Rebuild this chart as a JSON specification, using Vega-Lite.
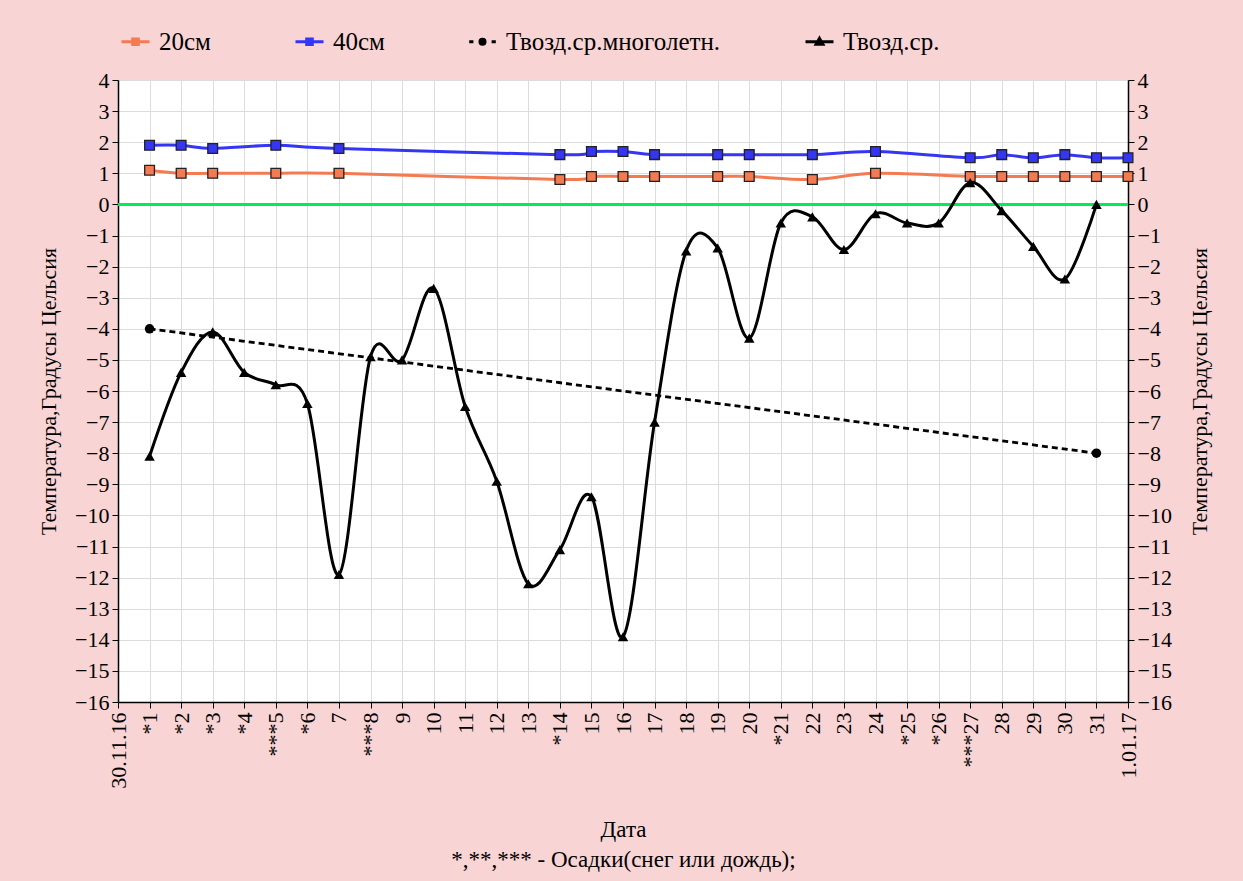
{
  "$schema": "https://vega.github.io/schema/vega-lite/v6.json",
  "width": 1010,
  "height": 622,
  "autosize": {"type": "none"},
  "padding": {"left": 118, "top": 80, "right": 115, "bottom": 179},
  "background": "#f9d4d4",
  "config": {
    "view": {"stroke": null, "fill": "white"},
    "axis": {"labelFont": "Liberation Serif", "titleFont": "Liberation Serif"},
    "style": {"guide-label": {"font": "Liberation Serif"}, "guide-title": {"font": "Liberation Serif"}}
  },
  "data": {
    "values": [
      {"s": "20см", "d": 1, "t": 1.1}, {"s": "20см", "d": 2, "t": 1.0}, {"s": "20см", "d": 3, "t": 1.0},
      {"s": "20см", "d": 5, "t": 1.0}, {"s": "20см", "d": 7, "t": 1.0}, {"s": "20см", "d": 14, "t": 0.8},
      {"s": "20см", "d": 15, "t": 0.9}, {"s": "20см", "d": 16, "t": 0.9}, {"s": "20см", "d": 17, "t": 0.9},
      {"s": "20см", "d": 19, "t": 0.9}, {"s": "20см", "d": 20, "t": 0.9}, {"s": "20см", "d": 22, "t": 0.8},
      {"s": "20см", "d": 24, "t": 1.0}, {"s": "20см", "d": 27, "t": 0.9}, {"s": "20см", "d": 28, "t": 0.9},
      {"s": "20см", "d": 29, "t": 0.9}, {"s": "20см", "d": 30, "t": 0.9}, {"s": "20см", "d": 31, "t": 0.9},
      {"s": "20см", "d": 32, "t": 0.9},
      {"s": "40см", "d": 1, "t": 1.9}, {"s": "40см", "d": 2, "t": 1.9}, {"s": "40см", "d": 3, "t": 1.8},
      {"s": "40см", "d": 5, "t": 1.9}, {"s": "40см", "d": 7, "t": 1.8}, {"s": "40см", "d": 14, "t": 1.6},
      {"s": "40см", "d": 15, "t": 1.7}, {"s": "40см", "d": 16, "t": 1.7}, {"s": "40см", "d": 17, "t": 1.6},
      {"s": "40см", "d": 19, "t": 1.6}, {"s": "40см", "d": 20, "t": 1.6}, {"s": "40см", "d": 22, "t": 1.6},
      {"s": "40см", "d": 24, "t": 1.7}, {"s": "40см", "d": 27, "t": 1.5}, {"s": "40см", "d": 28, "t": 1.6},
      {"s": "40см", "d": 29, "t": 1.5}, {"s": "40см", "d": 30, "t": 1.6}, {"s": "40см", "d": 31, "t": 1.5},
      {"s": "40см", "d": 32, "t": 1.5},
      {"s": "Твозд.ср.многолетн.", "d": 1, "t": -4.0},
      {"s": "Твозд.ср.многолетн.", "d": 31, "t": -8.0},
      {"s": "Твозд.ср.", "d": 1, "t": -8.1}, {"s": "Твозд.ср.", "d": 2, "t": -5.4}, {"s": "Твозд.ср.", "d": 3, "t": -4.1},
      {"s": "Твозд.ср.", "d": 4, "t": -5.4}, {"s": "Твозд.ср.", "d": 5, "t": -5.8}, {"s": "Твозд.ср.", "d": 6, "t": -6.4},
      {"s": "Твозд.ср.", "d": 7, "t": -11.9}, {"s": "Твозд.ср.", "d": 8, "t": -4.9}, {"s": "Твозд.ср.", "d": 9, "t": -5.0},
      {"s": "Твозд.ср.", "d": 10, "t": -2.7}, {"s": "Твозд.ср.", "d": 11, "t": -6.5}, {"s": "Твозд.ср.", "d": 12, "t": -8.9},
      {"s": "Твозд.ср.", "d": 13, "t": -12.2}, {"s": "Твозд.ср.", "d": 14, "t": -11.1}, {"s": "Твозд.ср.", "d": 15, "t": -9.4},
      {"s": "Твозд.ср.", "d": 16, "t": -13.9}, {"s": "Твозд.ср.", "d": 17, "t": -7.0}, {"s": "Твозд.ср.", "d": 18, "t": -1.5},
      {"s": "Твозд.ср.", "d": 19, "t": -1.4}, {"s": "Твозд.ср.", "d": 20, "t": -4.3}, {"s": "Твозд.ср.", "d": 21, "t": -0.6},
      {"s": "Твозд.ср.", "d": 22, "t": -0.4}, {"s": "Твозд.ср.", "d": 23, "t": -1.45}, {"s": "Твозд.ср.", "d": 24, "t": -0.3},
      {"s": "Твозд.ср.", "d": 25, "t": -0.6}, {"s": "Твозд.ср.", "d": 26, "t": -0.6}, {"s": "Твозд.ср.", "d": 27, "t": 0.7},
      {"s": "Твозд.ср.", "d": 28, "t": -0.2}, {"s": "Твозд.ср.", "d": 29, "t": -1.35}, {"s": "Твозд.ср.", "d": 30, "t": -2.4},
      {"s": "Твозд.ср.", "d": 31, "t": 0.0}
    ]
  },
  "layer": [
    {
      "mark": {"type": "rule", "color": "#00ee55", "strokeWidth": 2.5},
      "encoding": {
        "y": {"datum": 0, "type": "quantitative", "scale": {"domain": [-16, 4], "nice": false, "zero": false}, "axis": null}
      }
    },
    {
      "transform": [{"filter": "datum.s === '20см' || datum.s === '40см'"}],
      "mark": {"type": "line", "interpolate": "cardinal", "strokeWidth": 3},
      "encoding": {
        "x": {
          "field": "d", "type": "quantitative",
          "scale": {"domain": [0, 32], "nice": false, "zero": false},
          "axis": {
            "values": [0,1,2,3,4,5,6,7,8,9,10,11,12,13,14,15,16,17,18,19,20,21,22,23,24,25,26,27,28,29,30,31,32],
            "labelExpr": "['30.11.16','*1','*2','*3','*4','***5','*6','7','***8','9','10','11','12','13','*14','15','16','17','18','19','20','*21','22','23','24','*25','*26','***27','28','29','30','31','1.01.17'][datum.value]",
            "labelAngle": -90, "labelAlign": "right", "labelBaseline": "middle",
            "labelFontSize": 22, "labelColor": "#000", "labelPadding": 4,
            "labelFont": "Liberation Serif", "labelOverlap": false, "labelBound": false, "labelFlush": false,
            "grid": true, "gridColor": "#dcdcdc", "gridWidth": 1,
            "tickColor": "#000", "tickSize": 6, "domainColor": "#000", "domainWidth": 1.5,
            "title": ["Дата", "*,**,*** - Осадки(снег или дождь);"],
            "titleFontSize": 23, "titleFontWeight": "normal", "titleColor": "#000",
            "titleFont": "Liberation Serif", "titleLineHeight": 30, "titlePadding": 30
          }
        },
        "y": {
          "field": "t", "type": "quantitative",
          "scale": {"domain": [-16, 4], "nice": false, "zero": false},
          "axis": {
            "orient": "left",
            "values": [-16,-15,-14,-13,-12,-11,-10,-9,-8,-7,-6,-5,-4,-3,-2,-1,0,1,2,3,4],
            "labelFontSize": 22, "labelColor": "#000", "labelFont": "Liberation Serif", "labelPadding": 3,
            "labelOverlap": false, "labelFlush": false,
            "grid": true, "gridColor": "#dcdcdc", "gridWidth": 1,
            "tickColor": "#000", "tickSize": 6, "domainColor": "#000", "domainWidth": 1.5,
            "title": "Температура,Градусы Цельсия",
            "titleFontSize": 22, "titleFontWeight": "normal", "titleColor": "#000",
            "titleFont": "Liberation Serif", "titlePadding": 14
          }
        },
        "color": {
          "field": "s", "type": "nominal",
          "scale": {
            "domain": ["20см", "40см", "Твозд.ср.многолетн.", "Твозд.ср."],
            "range": ["#f47a52", "#3535f5", "#000000", "#000000"]
          },
          "legend": {
            "orient": "none", "legendX": 2, "legendY": -54, "direction": "horizontal",
            "title": null, "labelFontSize": 25, "labelFont": "Liberation Serif", "labelColor": "#000",
            "labelLimit": 500,
            "columnPadding": 78, "labelOffset": 8, "symbolSize": 784, "symbolStrokeWidth": 3,
            "encode": {
              "symbols": {
                "update": {
                  "shape": {"signal": "datum.value === 'Твозд.ср.' ? 'M-1,0H1M0,-0.24L0.24,0.18H-0.24Z' : datum.value === 'Твозд.ср.многолетн.' ? 'M-0.95,0H-0.65M0.65,0H0.95M0.18,0A0.18,0.18,0,1,1,-0.18,0A0.18,0.18,0,1,1,0.18,0' : 'M-1,0H1M-0.2,-0.2H0.2V0.2H-0.2Z'"},
                  "fill": {"signal": "scale('color', datum.value)"},
                  "stroke": {"signal": "scale('color', datum.value)"},
                  "strokeDash": {"value": []},
                  "strokeWidth": {"value": 3},
                  "size": {"value": 784},
                  "opacity": {"value": 1}
                }
              }
            }
          }
        }
      }
    },
    {
      "transform": [{"filter": "datum.s === '20см' || datum.s === '40см'"}],
      "mark": {"type": "point", "shape": "square", "filled": true, "size": 95, "stroke": "#222", "strokeWidth": 1.3, "opacity": 1},
      "encoding": {
        "x": {"field": "d", "type": "quantitative", "axis": null},
        "y": {"field": "t", "type": "quantitative", "axis": null},
        "color": {"field": "s", "type": "nominal"}
      }
    },
    {
      "transform": [{"filter": "datum.s === 'Твозд.ср.многолетн.'"}],
      "mark": {"type": "line", "strokeWidth": 2.8, "strokeDash": [6, 4]},
      "encoding": {
        "x": {"field": "d", "type": "quantitative", "axis": null},
        "y": {"field": "t", "type": "quantitative", "axis": null},
        "color": {"field": "s", "type": "nominal"}
      }
    },
    {
      "transform": [{"filter": "datum.s === 'Твозд.ср.многолетн.'"}],
      "mark": {"type": "point", "shape": "circle", "filled": true, "size": 90, "opacity": 1},
      "encoding": {
        "x": {"field": "d", "type": "quantitative", "axis": null},
        "y": {"field": "t", "type": "quantitative", "axis": null},
        "color": {"field": "s", "type": "nominal"}
      }
    },
    {
      "transform": [{"filter": "datum.s === 'Твозд.ср.'"}],
      "mark": {"type": "line", "interpolate": "cardinal", "strokeWidth": 3},
      "encoding": {
        "x": {"field": "d", "type": "quantitative", "axis": null},
        "y": {
          "field": "t", "type": "quantitative",
          "axis": {
            "orient": "right",
            "values": [-16,-15,-14,-13,-12,-11,-10,-9,-8,-7,-6,-5,-4,-3,-2,-1,0,1,2,3,4],
            "labelFontSize": 22, "labelColor": "#000", "labelFont": "Liberation Serif", "labelPadding": 3,
            "labelOverlap": false, "labelFlush": false,
            "grid": false,
            "tickColor": "#000", "tickSize": 6, "domainColor": "#000", "domainWidth": 1.5,
            "title": "Температура,Градусы Цельсия",
            "titleAngle": 270, "titleBaseline": "top",
            "titleFontSize": 22, "titleFontWeight": "normal", "titleColor": "#000",
            "titleFont": "Liberation Serif", "titlePadding": 18
          }
        },
        "color": {"field": "s", "type": "nominal"}
      }
    },
    {
      "transform": [{"filter": "datum.s === 'Твозд.ср.'"}],
      "mark": {"type": "point", "shape": "triangle-up", "filled": true, "size": 110, "opacity": 1},
      "encoding": {
        "x": {"field": "d", "type": "quantitative", "axis": null},
        "y": {"field": "t", "type": "quantitative", "axis": null},
        "color": {"field": "s", "type": "nominal"}
      }
    }
  ],
  "resolve": {"axis": {"x": "independent", "y": "independent"}}
}
